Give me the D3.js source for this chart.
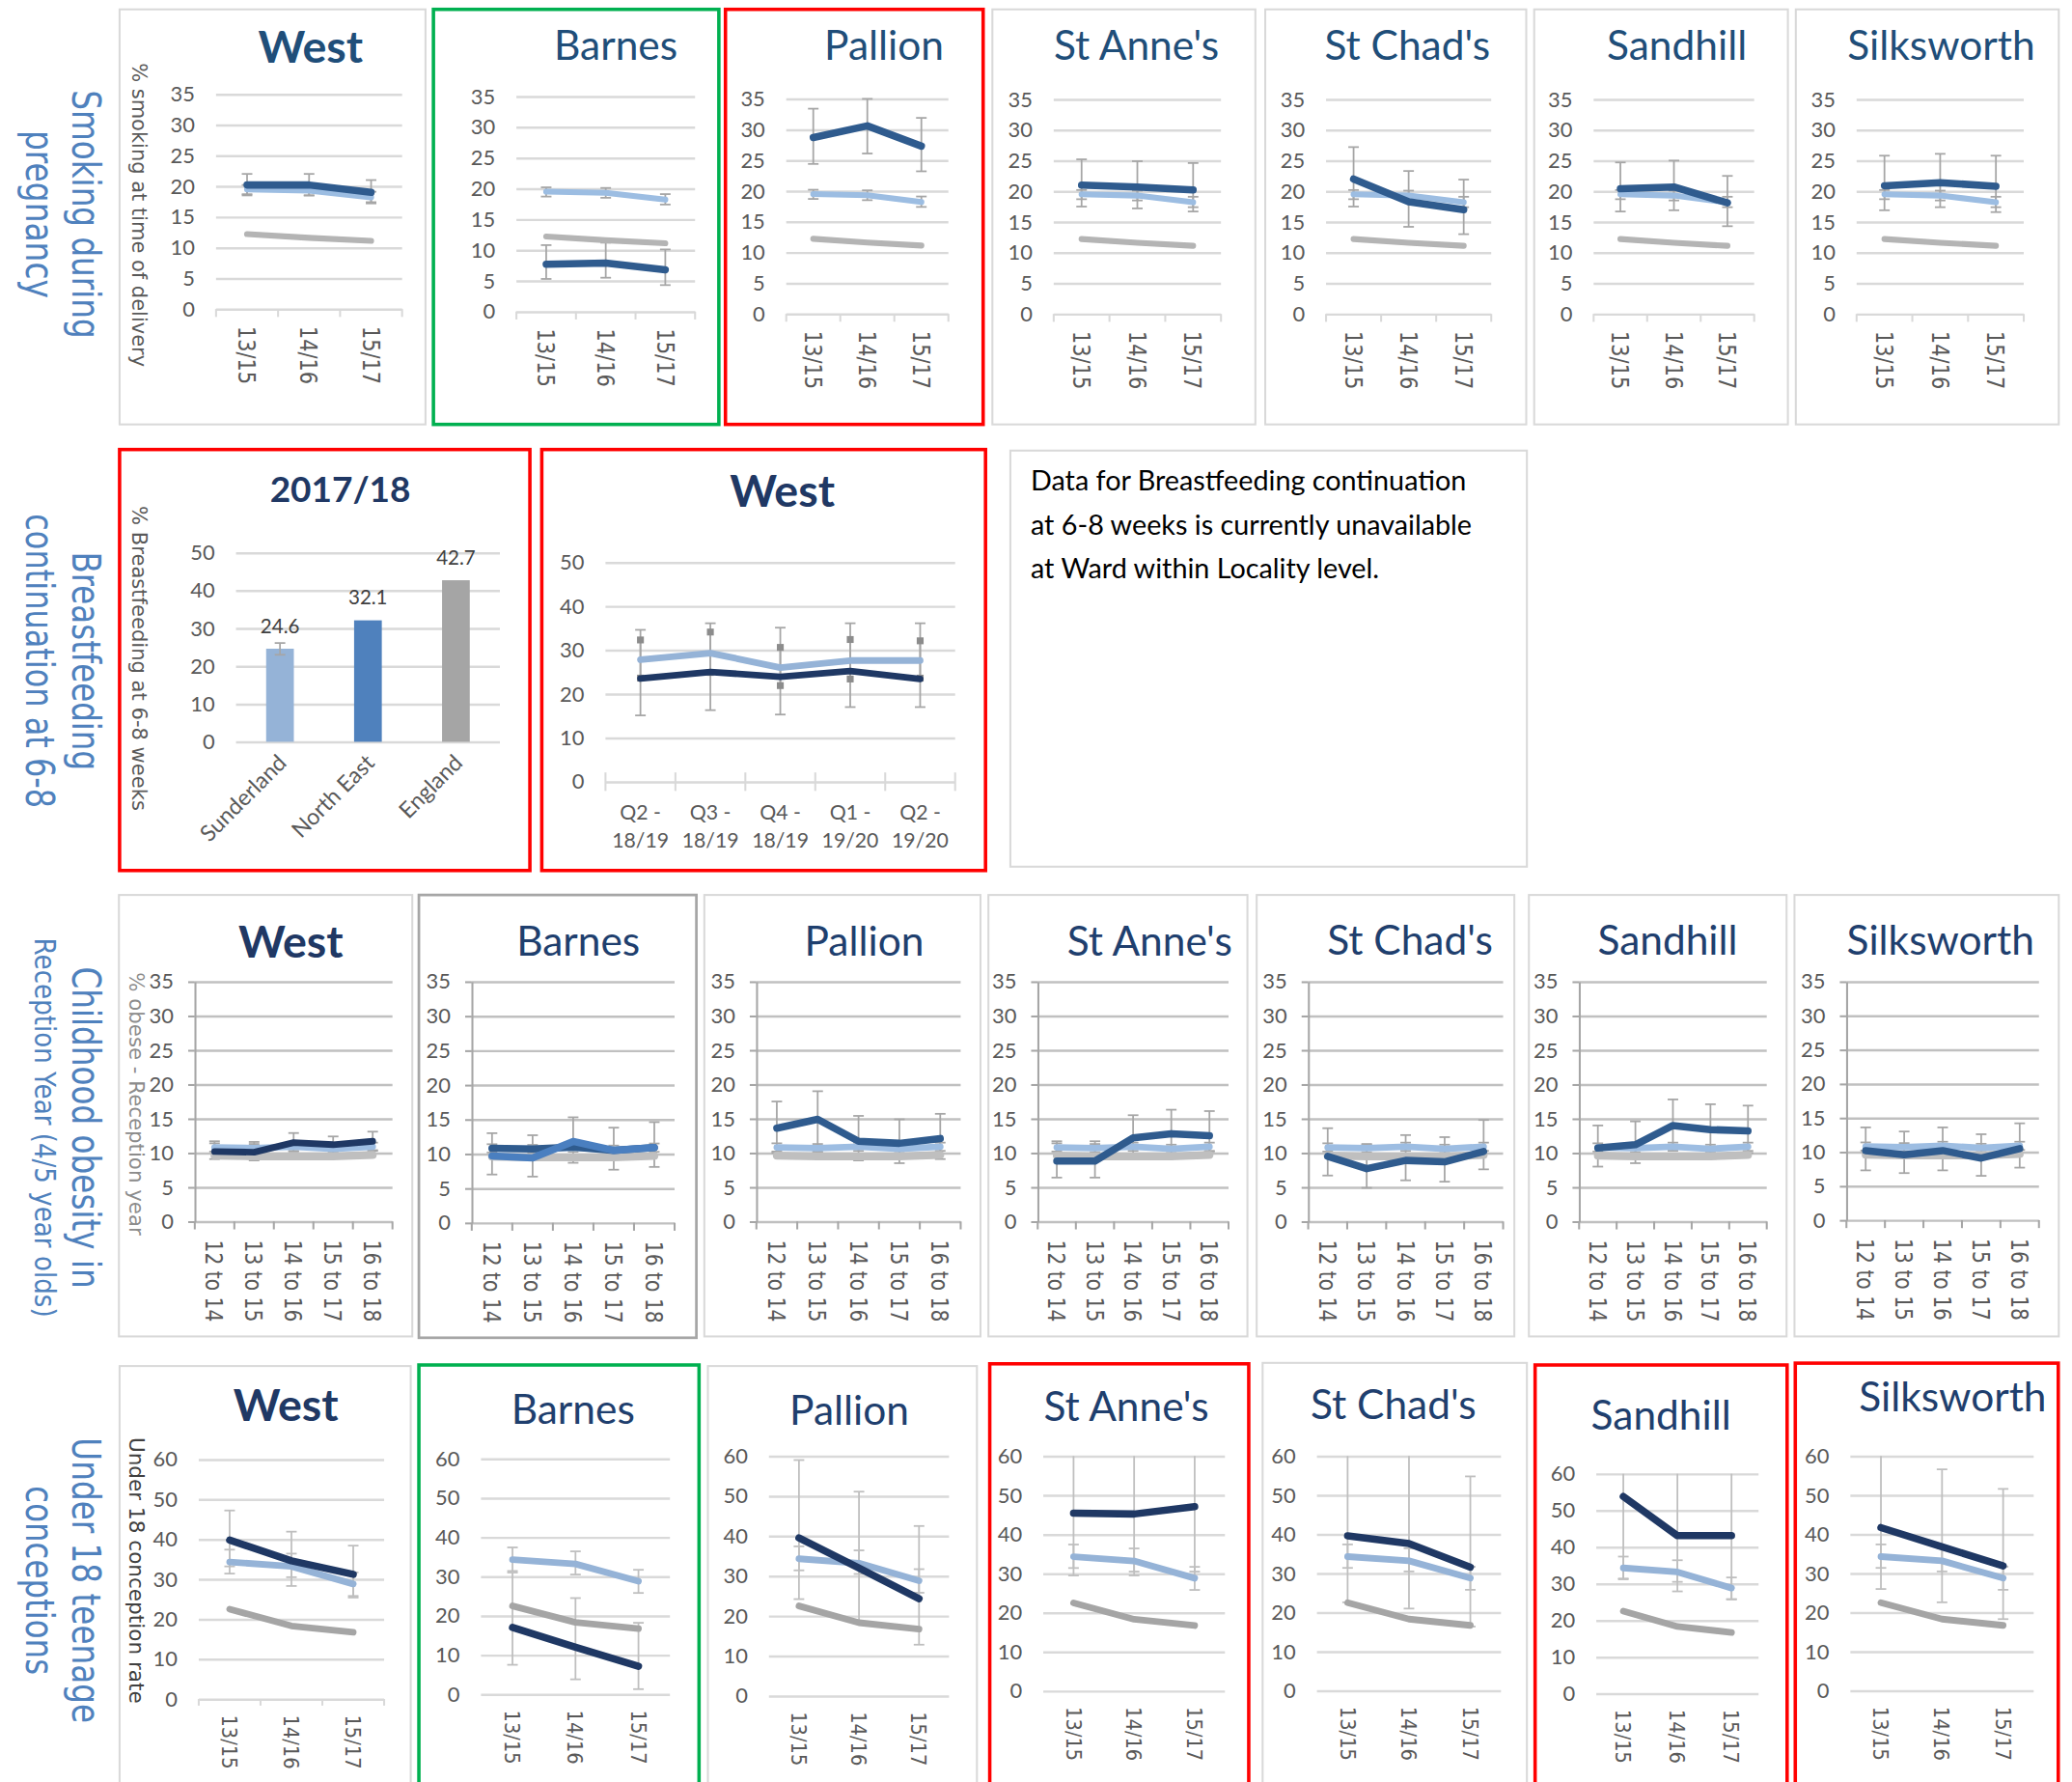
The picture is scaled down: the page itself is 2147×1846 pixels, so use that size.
<!DOCTYPE html>
<html>
<head>
<meta charset="utf-8">
<script src="https://cdn.jsdelivr.net/npm/d3@7"></script>
<style>
  body { margin: 0; background: #fff; }
  svg { display: block; }
</style>
</head>
<body>
<script>
// ---------------- data ----------------
var wards = ['West', 'Barnes', 'Pallion', "St Anne's", "St Chad's", 'Sandhill', 'Silksworth'];

// Smoking during pregnancy (% smoking at time of delivery)
var smokingPeriods = ['13/15', '14/16', '15/17'];
var smokingTicks = [0, 5, 10, 15, 20, 25, 30, 35];
var smokingArea = [[20.2, 20.2, 19.0], [7.7, 7.9, 6.8], [28.7, 30.6, 27.3], [21.0, 20.7, 20.2], [22.0, 18.3, 17.0], [20.4, 20.7, 18.1], [20.9, 21.4, 20.8]];
var smokingAreaLow = [[18.5, 18.5, 17.2], [5.3, 5.5, 4.3], [24.4, 26.1, 23.2], [17.5, 17.2, 16.7], [17.5, 14.2, 13.0], [16.7, 16.9, 14.3], [16.9, 17.4, 16.6]];
var smokingAreaHigh = [[22.0, 22.0, 21.0], [10.8, 11.2, 10.1], [33.4, 35.0, 31.9], [25.2, 24.9, 24.6], [27.2, 23.3, 21.9], [24.7, 25.0, 22.5], [25.8, 26.1, 25.8]];
var smokingSunderland = [19.5, 19.3, 18.2];
var smokingSunderlandLow = [18.7, 18.5, 17.4];
var smokingSunderlandHigh = [20.2, 20.1, 19.1];
var smokingEngland = [12.2, 11.6, 11.1];

// Breastfeeding continuation at 6-8 weeks
var bfYear = '2017/18';
var bfCategories = ['Sunderland', 'North East', 'England'];
var bfValues = [24.6, 32.1, 42.7];
var bfSunderlandCI = [23.0, 26.1];
var bfTicks = [0, 10, 20, 30, 40, 50];
var bfQuarters = [['Q2 -', '18/19'], ['Q3 -', '18/19'], ['Q4 -', '18/19'], ['Q1 -', '19/20'], ['Q2 -', '19/20']];
var bfWest = [23.5, 25.0, 23.9, 25.2, 23.4];
var bfWestLow = [15.1, 16.3, 15.3, 17.0, 17.0];
var bfWestHigh = [34.6, 36.1, 35.1, 36.1, 36.1];
var bfSunderland = [27.8, 29.3, 26.0, 27.6, 27.6];
var bfSunderlandLow = [23.6, 24.9, 21.9, 23.4, 23.6];
var bfSunderlandHigh = [32.3, 34.1, 30.6, 32.4, 32.1];
var bfNote = ['Data for Breastfeeding continuation', 'at 6-8 weeks is currently unavailable', 'at Ward within Locality level.'];

// Childhood obesity, reception year
var obesityPeriods = ['12 to 14', '13 to 15', '14 to 16', '15 to 17', '16 to 18'];
var obesityTicks = [0, 5, 10, 15, 20, 25, 30, 35];
var obesityArea = [
  [10.2, 10.1, 11.5, 11.2, 11.7],
  [9.7, 9.4, 11.8, 10.5, 10.9],
  [13.6, 14.9, 11.7, 11.4, 12.1],
  [8.8, 8.8, 12.2, 12.8, 12.5],
  [9.5, 7.7, 8.9, 8.7, 10.2],
  [10.7, 11.2, 14.0, 13.4, 13.2],
  [10.2, 9.6, 10.2, 9.1, 10.5]];
var obesityAreaLow = [
  [9.1, 8.9, 10.2, 10.0, 10.4],
  [7.0, 6.7, 8.7, 7.7, 8.1],
  [10.0, 10.2, 8.9, 8.5, 9.1],
  [6.4, 6.4, 9.8, 10.5, 10.2],
  [6.7, 4.9, 6.0, 5.8, 7.6],
  [8.0, 8.5, 10.5, 10.0, 10.0],
  [7.3, 6.9, 7.3, 6.5, 7.7]];
var obesityAreaHigh = [
  [11.7, 11.6, 12.9, 12.4, 13.1],
  [13.0, 12.7, 15.3, 13.8, 14.6],
  [17.5, 19.0, 15.4, 14.9, 15.7],
  [11.7, 11.7, 15.5, 16.3, 16.1],
  [13.6, 11.2, 12.6, 12.3, 14.8],
  [14.0, 14.6, 17.8, 17.1, 16.9],
  [13.6, 13.0, 13.6, 12.6, 14.2]];
var obesityBarnesLocality = [10.8, 10.7, 11.0, 10.5, 10.9];
var obesitySunderland = [10.8, 10.7, 10.9, 10.6, 10.9];
var obesitySunderlandLow = [10.2, 10.1, 10.3, 10.0, 10.3];
var obesitySunderlandHigh = [11.4, 11.3, 11.5, 11.2, 11.5];
var obesityEngland = [9.6, 9.5, 9.5, 9.5, 9.7];

// Under 18 conceptions (rate)
var teenPeriods = ['13/15', '14/16', '15/17'];
var teenTicks = [0, 10, 20, 30, 40, 50, 60];
var teenArea = [[39.8, 34.6, 31.2], [17.0, 12.0, 7.1], [39.5, 32.0, 24.3], [45.4, 45.2, 47.1], [39.6, 37.6, 31.6], [53.8, 43.1, 43.1], [41.7, 36.8, 31.9]];
var teenAreaLow = [[33.2, 28.3, 25.4], [7.5, 3.8, 1.3], [24.2, 18.5, 12.8], [29.5, 29.5, 30.5], [22.6, 21.0, 16.4], [31.2, 27.9, 25.7], [26.0, 22.6, 18.3]];
var teenAreaHigh = [[47.2, 41.9, 38.4], [31.0, 24.5, 18.2], [59.0, 51.1, 42.5], [62, 62, 62], [62, 62, 54.8], [62, 62, 62], [62, 56.6, 51.6]];
var teenSunderland = [34.3, 33.2, 28.8];
var teenSunderlandLow = [31.4, 30.5, 25.8];
var teenSunderlandHigh = [37.4, 36.4, 31.7];
var teenEngland = [22.5, 18.3, 16.7];

var rowLabels = [['Smoking during', 'pregnancy'], ['Breastfeeding', 'continuation at 6-8'], ['Childhood obesity in', 'Reception Year (4/5 year olds)'], ['Under 18 teenage', 'conceptions']];
var axisTitles = ['% smoking at time of delivery', '% Breastfeeding at 6-8 weeks', '% obese - Reception year', 'Under 18 conception rate'];

// ---------------- layout (in 1568 x 1348 units, scaled by viewBox) ----------------
var row1Boxes = [[90.5, 7, 322, 321], [328, 7, 544, 321], [549, 7, 744, 321], [751, 7, 950, 321], [957.5, 7, 1155, 321], [1161, 7, 1353, 321], [1359, 7, 1558, 321]];
var row1Plots = [[163.5, 304.3, 71.1, 233.7], [390.8, 526, 72.8, 235.6], [595, 717.7, 74.7, 237.3], [797.4, 924, 75, 237.4], [1003.5, 1128.5, 75, 237.4], [1206, 1327.5, 75, 237.4], [1405, 1531.5, 75, 237.4]];
var row1Titles = [[235, 35], [466, 34], [669, 34], [860, 34], [1065, 34], [1269, 34], [1469, 34]];
var row1Borders = ['grey', 'green', 'red', 'grey', 'grey', 'grey', 'grey'];

var row3Boxes = [[90, 677, 312, 1011], [317, 677, 527, 1012], [533, 677, 742, 1011], [748, 677, 944, 1011], [951, 677, 1146, 1011], [1157, 677, 1352, 1011], [1358, 677, 1558, 1011]];
var row3Plots = [[147.4, 297, 742.5, 924], [357, 510.5, 742.5, 925], [572.4, 727, 742.5, 924], [785.3, 929.7, 742.5, 924], [990, 1137.5, 742.5, 924], [1195, 1337, 742.5, 924], [1397.3, 1543, 742.5, 923]];
var row3Titles = [[220, 712], [437.6, 711.6], [654, 711.6], [870, 711.6], [1067, 711], [1262, 711], [1468.5, 711]];
var row3Borders = ['grey', 'dark', 'grey', 'grey', 'grey', 'grey', 'grey'];

var row4Boxes = [[90.5, 1033.4, 310.8, 1362], [317, 1032.6, 529, 1362], [535.7, 1033.4, 739.3, 1362], [749, 1031.7, 945, 1362], [955.5, 1031, 1155.5, 1362], [1161.7, 1032.6, 1352.4, 1362], [1358.6, 1031.2, 1557.6, 1362]];
var row4Plots = [[150.4, 290.7, 1104, 1285.3], [364, 507, 1103.5, 1281.7], [581.9, 718.2, 1101.5, 1282.9], [789.5, 927, 1101.5, 1279.2], [996.6, 1135.9, 1101.5, 1279], [1208, 1330.8, 1114.9, 1281.2], [1400.3, 1539, 1101.5, 1279]];
var row4Titles = [[216.3, 1062.5], [433.6, 1065.8], [642.7, 1066.7], [852.3, 1063.8], [1054.4, 1062.5], [1257, 1070.6], [1477.7, 1056.5]];
var row4Borders = ['grey', 'green', 'grey', 'red', 'grey', 'red', 'red'];

var FONT = 'Lato, "Open Sans", sans-serif';
var VFONT = '"DejaVu Sans", Verdana, sans-serif';
var BORDERS = {
  grey: ['#d9d9d9', 1.5],
  green: ['#00b050', 2.6],
  red: ['#ff0000', 2.6],
  dark: ['#a6a6a6', 2]
};

var svg = d3.select('body').append('svg')
  .attr('width', 2147)
  .attr('height', 1846)
  .attr('viewBox', '0 0 1568 1348');

svg.append('rect').attr('width', 1568).attr('height', 1348).attr('fill', '#fff');

function drawBox(g, box, border) {
  var b = BORDERS[border];
  g.append('rect')
    .attr('x', box[0]).attr('y', box[1])
    .attr('width', box[2] - box[0]).attr('height', box[3] - box[1])
    .attr('fill', '#fff')
    .attr('stroke', b[0])
    .attr('stroke-width', b[1]);
}

// rotated (top-to-bottom) text, squeezed to a given length
function vText(str, x, yc, size, len, color, dy) {
  svg.append('text')
    .attr('transform', 'translate(' + x + ',' + yc + ') rotate(90)')
    .attr('dy', dy || 0)
    .attr('text-anchor', 'middle')
    .attr('font-family', VFONT)
    .attr('font-size', size)
    .attr('fill', color)
    .attr('textLength', len)
    .attr('lengthAdjust', 'spacingAndGlyphs')
    .text(str);
}

function drawErrorBars(g, x, y, s, capW, color) {
  var top = y.domain()[1];
  var cx = function(d) { return x(d.i) + x.bandwidth() / 2; };
  var data = s.values.map(function(v, i) { return { i: i, lo: s.low[i], hi: s.high[i] }; });
  var eb = g.append('g')
    .attr('stroke', color)
    .attr('stroke-width', 1.3)
    .selectAll('g').data(data).join('g');

  eb.append('line')
    .attr('x1', cx).attr('x2', cx)
    .attr('y1', function(d) { return y(d.lo); })
    .attr('y2', function(d) { return y(Math.min(d.hi, top)); });

  if (s.square) {
    ['lo', 'hi'].forEach(function(k) {
      eb.append('rect')
        .attr('x', function(d) { return cx(d) - 2.6; })
        .attr('y', function(d) { return y(d[k]) - 2.6; })
        .attr('width', 5.2).attr('height', 5.2)
        .attr('stroke', 'none')
        .attr('fill', '#8c8c8c');
    });
    return;
  }

  eb.append('line')
    .attr('x1', function(d) { return cx(d) - capW / 2; })
    .attr('x2', function(d) { return cx(d) + capW / 2; })
    .attr('y1', function(d) { return y(d.lo); })
    .attr('y2', function(d) { return y(d.lo); });

  eb.filter(function(d) { return d.hi <= top; }).append('line')
    .attr('x1', function(d) { return cx(d) - capW / 2; })
    .attr('x2', function(d) { return cx(d) + capW / 2; })
    .attr('y1', function(d) { return y(d.hi); })
    .attr('y2', function(d) { return y(d.hi); });
}

function linePanel(p) {
  var g = svg.append('g');
  drawBox(g, p.box, p.border);

  var x = d3.scaleBand().domain(d3.range(p.cats.length)).range([p.plot[0], p.plot[1]]);
  var y = d3.scaleLinear().domain([0, p.max]).range([p.plot[3], p.plot[2]]);
  var w = p.plot[1] - p.plot[0];

  // gridlines + value labels
  var grid = g.append('g')
    .attr('transform', 'translate(' + p.plot[0] + ',0)')
    .call(d3.axisLeft(y).tickValues(p.ticks).tickSize(-w).tickPadding(16));
  grid.select('.domain').remove();
  grid.selectAll('line').attr('stroke', p.gridColor).attr('stroke-width', 1.8);
  grid.selectAll('text')
    .attr('font-family', FONT)
    .attr('font-size', 16)
    .attr('fill', '#595959');

  if (p.yAxisLine) {
    var ax = g.append('g')
      .attr('transform', 'translate(' + p.plot[0] + ',0)')
      .call(d3.axisLeft(y).tickValues(p.ticks).tickSize(5).tickSizeOuter(0).tickFormat(''));
    ax.selectAll('path, line').attr('stroke', '#a6a6a6').attr('stroke-width', 1.5);
  }

  if (p.xTicks) {
    g.append('g').selectAll('line')
      .data(d3.range(p.cats.length + 1))
      .join('line')
      .attr('x1', function(i) { return p.plot[0] + i * x.step(); })
      .attr('x2', function(i) { return p.plot[0] + i * x.step(); })
      .attr('y1', y(0) - p.xTicks[0])
      .attr('y2', y(0) + p.xTicks[1])
      .attr('stroke', p.xTickColor || p.gridColor)
      .attr('stroke-width', 1.5);
  }

  // category labels
  if (p.twoLine) {
    var lab = g.append('g').selectAll('text')
      .data(p.cats)
      .join('text')
      .attr('x', function(d, i) { return x(i) + x.bandwidth() / 2; })
      .attr('y', y(0) + 29)
      .attr('text-anchor', 'middle')
      .attr('font-family', FONT)
      .attr('font-size', 15.5)
      .attr('fill', '#595959');
    lab.selectAll('tspan')
      .data(function(d) { return d; })
      .join('tspan')
      .attr('x', function() { return d3.select(this.parentNode).attr('x'); })
      .attr('dy', function(d, j) { return j ? 21 : 0; })
      .text(function(d) { return d; });
  } else {
    g.append('g').selectAll('text')
      .data(p.cats)
      .join('text')
      .attr('transform', function(d, i) {
        return 'translate(' + (x(i) + x.bandwidth() / 2) + ',' + (y(0) + p.labelGap) + ') rotate(90)';
      })
      .attr('dy', '0.36em')
      .attr('font-family', VFONT)
      .attr('font-size', p.labelSize || 18)
      .attr('fill', '#595959')
      .attr('textLength', p.labelLen)
      .attr('lengthAdjust', 'spacingAndGlyphs')
      .text(function(d) { return d; });
  }

  // title
  g.append('text')
    .attr('x', p.title[0])
    .attr('y', p.title[1])
    .attr('dy', '0.36em')
    .attr('text-anchor', 'middle')
    .attr('font-family', FONT)
    .attr('font-weight', p.bold ? 700 : 400)
    .attr('font-size', p.bold ? 34 : 31)
    .attr('fill', p.titleColor)
    .text(p.name);

  // error bars behind the lines
  p.series.forEach(function(s) {
    if (s.low) drawErrorBars(g, x, y, s, p.capW, p.barColor);
  });

  var line = d3.line()
    .x(function(d, i) { return x(i) + x.bandwidth() / 2; })
    .y(function(d) { return y(d); });

  p.series.forEach(function(s) {
    g.append('path')
      .datum(s.values)
      .attr('d', line)
      .attr('fill', 'none')
      .attr('stroke', s.color)
      .attr('stroke-width', s.width)
      .attr('stroke-linecap', 'round')
      .attr('stroke-linejoin', 'round');
  });
}

// ---------------- row 1: smoking ----------------
wards.forEach(function(name, k) {
  linePanel({
    name: name, bold: k === 0, titleColor: '#1f4e79',
    box: row1Boxes[k], plot: row1Plots[k], title: row1Titles[k], border: row1Borders[k],
    cats: smokingPeriods, max: 35, ticks: smokingTicks,
    gridColor: '#d9d9d9', xTicks: [0, 6], labelGap: 13, labelLen: 44,
    capW: 8, barColor: '#a6a6a6',
    series: [
      { values: smokingEngland, color: '#b4b4b4', width: 4.5 },
      { values: smokingSunderland, low: smokingSunderlandLow, high: smokingSunderlandHigh, color: '#9cbde2', width: 4.5 },
      { values: smokingArea[k], low: smokingAreaLow[k], high: smokingAreaHigh[k], color: '#2f5b8e', width: 5.5 }
    ]
  });
});

// ---------------- row 2: breastfeeding ----------------
(function() {
  var g = svg.append('g');
  drawBox(g, [90.5, 340, 401, 658.5], 'red');
  var plot = [178.6, 378.3, 418, 561.1];
  var x = d3.scaleBand().domain(bfCategories).range([plot[0], plot[1]])
    .paddingInner(0.685).paddingOuter(0.3425);
  var y = d3.scaleLinear().domain([0, 50]).range([plot[3], plot[2]]);

  var grid = g.append('g')
    .attr('transform', 'translate(' + plot[0] + ',0)')
    .call(d3.axisLeft(y).tickValues(bfTicks).tickSize(-(plot[1] - plot[0])).tickPadding(16));
  grid.select('.domain').remove();
  grid.selectAll('line').attr('stroke', '#d9d9d9').attr('stroke-width', 1.8);
  grid.selectAll('text').attr('font-family', FONT).attr('font-size', 16).attr('fill', '#595959');

  var barColors = d3.scaleOrdinal().domain(bfCategories).range(['#95b3d7', '#4f81bd', '#a5a5a5']);
  var data = bfCategories.map(function(c, i) { return { cat: c, v: bfValues[i] }; });

  g.append('g').selectAll('rect')
    .data(data)
    .join('rect')
    .attr('x', function(d) { return x(d.cat); })
    .attr('y', function(d) { return y(d.v); })
    .attr('width', x.bandwidth())
    .attr('height', function(d) { return y(0) - y(d.v); })
    .attr('fill', function(d) { return barColors(d.cat); });

  // Sunderland confidence interval
  var cx = x(bfCategories[0]) + x.bandwidth() / 2;
  var eb = g.append('g').attr('stroke', '#a6a6a6').attr('stroke-width', 1.3);
  eb.append('line').attr('x1', cx).attr('x2', cx).attr('y1', y(bfSunderlandCI[0])).attr('y2', y(bfSunderlandCI[1]));
  bfSunderlandCI.forEach(function(v) {
    eb.append('line').attr('x1', cx - 4).attr('x2', cx + 4).attr('y1', y(v)).attr('y2', y(v));
  });

  g.append('g').selectAll('text')
    .data(data)
    .join('text')
    .attr('x', function(d) { return x(d.cat) + x.bandwidth() / 2; })
    .attr('y', function(d) { return y(d.v) - 12; })
    .attr('text-anchor', 'middle')
    .attr('font-family', FONT)
    .attr('font-size', 15)
    .attr('fill', '#404040')
    .text(function(d) { return d.v.toFixed(1); });

  g.append('g').selectAll('text')
    .data(bfCategories)
    .join('text')
    .attr('transform', function(d) {
      return 'translate(' + (x(d) + x.bandwidth() / 2 + 6) + ',' + (y(0) + 17) + ') rotate(-45)';
    })
    .attr('text-anchor', 'end')
    .attr('font-family', FONT)
    .attr('font-size', 17)
    .attr('fill', '#595959')
    .text(function(d) { return d; });

  g.append('text')
    .attr('x', 257.5).attr('y', 370).attr('dy', '0.36em')
    .attr('text-anchor', 'middle')
    .attr('font-family', FONT).attr('font-weight', 700).attr('font-size', 27)
    .attr('fill', '#203864')
    .text(bfYear);
})();

linePanel({
  name: 'West', bold: true, titleColor: '#203864',
  box: [410, 340, 745.8, 658.5], plot: [458.2, 722.8, 425.3, 591.3], title: [592, 371.3], border: 'red',
  cats: bfQuarters, twoLine: true, max: 50, ticks: bfTicks,
  gridColor: '#d9d9d9', xTicks: [7, 7], capW: 8, barColor: '#a6a6a6',
  series: [
    { values: bfWest, low: bfWestLow, high: bfWestHigh, color: '#1f3864', width: 5 },
    { values: bfSunderland, low: bfSunderlandLow, high: bfSunderlandHigh, square: true, color: '#95b3d7', width: 5 }
  ]
});

(function() {
  var g = svg.append('g');
  drawBox(g, [764.6, 340.8, 1155.5, 655.6], 'grey');
  g.append('g').selectAll('text')
    .data(bfNote)
    .join('text')
    .attr('x', 780)
    .attr('y', function(d, i) { return 371 + i * 33.2; })
    .attr('font-family', FONT)
    .attr('font-size', 21)
    .attr('fill', '#000')
    .text(function(d) { return d; });
})();

// ---------------- row 3: obesity ----------------
wards.forEach(function(name, k) {
  var series = [
    { values: obesityEngland, color: '#bfbfbf', width: 6 },
    { values: obesitySunderland, low: obesitySunderlandLow, high: obesitySunderlandHigh, color: '#9dbde2', width: 5 }
  ];
  if (name === 'Barnes') {
    series.push({ values: obesityBarnesLocality, color: '#2f5b8e', width: 5.5 });
  }
  series.push({
    values: obesityArea[k], low: obesityAreaLow[k], high: obesityAreaHigh[k],
    color: k === 0 ? '#1f3864' : (name === 'Barnes' ? '#4a7fc0' : '#2f5b8e'),
    width: k === 0 ? 5 : 5.5
  });
  linePanel({
    name: name, bold: k === 0, titleColor: k === 0 ? '#203864' : '#1f3f6e',
    box: row3Boxes[k], plot: row3Plots[k], title: row3Titles[k], border: row3Borders[k],
    cats: obesityPeriods, max: 35, ticks: obesityTicks,
    gridColor: '#c0c0c0', yAxisLine: true, xTicks: [0, 6], xTickColor: '#a6a6a6',
    labelGap: 14, labelLen: 62, capW: 8, barColor: '#a6a6a6',
    series: series
  });
});

// ---------------- row 4: under 18 conceptions ----------------
wards.forEach(function(name, k) {
  linePanel({
    name: name, bold: k === 0, titleColor: k === 0 ? '#203864' : '#1f3f6e',
    box: row4Boxes[k], plot: row4Plots[k], title: row4Titles[k], border: row4Borders[k],
    cats: teenPeriods, max: 60, ticks: teenTicks,
    gridColor: '#d9d9d9', xTicks: k === 0 ? [0, 5] : null,
    labelGap: 12, labelLen: 41, labelSize: 16, capW: 8, barColor: '#bfbfbf',
    series: [
      { values: teenEngland, color: '#a5a5a5', width: 5 },
      { values: teenSunderland, low: teenSunderlandLow, high: teenSunderlandHigh, color: '#95b3d7', width: 5 },
      { values: teenArea[k], low: teenAreaLow[k], high: teenAreaHigh[k], color: '#1f3864', width: 5.5 }
    ]
  });
});

// ---------------- row labels and axis titles ----------------
var rowCentres = [162, 500, 853, 1195.6];
var rowLens = [[188, 127], [165.5, 222.7], [243.5, 287], [216, 143]];
rowLabels.forEach(function(lines, r) {
  vText(lines[0], 55, rowCentres[r], 30, rowLens[r][0], '#4f81bd');
  if (r === 2) {
    vText(lines[1], 26, rowCentres[r], 22, rowLens[r][1], '#4f81bd');
  } else {
    vText(lines[1], 20, rowCentres[r], 30, rowLens[r][1], '#4f81bd');
  }
});

var axisTitlePos = [[105.6, 162.5, 230, '#595959'], [105.6, 498, 230.7, '#595959'], [103, 835, 199, '#8c8c8c'], [103, 1188, 201.4, '#404040']];
axisTitles.forEach(function(t, r) {
  var a = axisTitlePos[r];
  vText(t, a[0], a[1], 15, a[2], a[3], '0.36em');
});
</script>
</body>
</html>
